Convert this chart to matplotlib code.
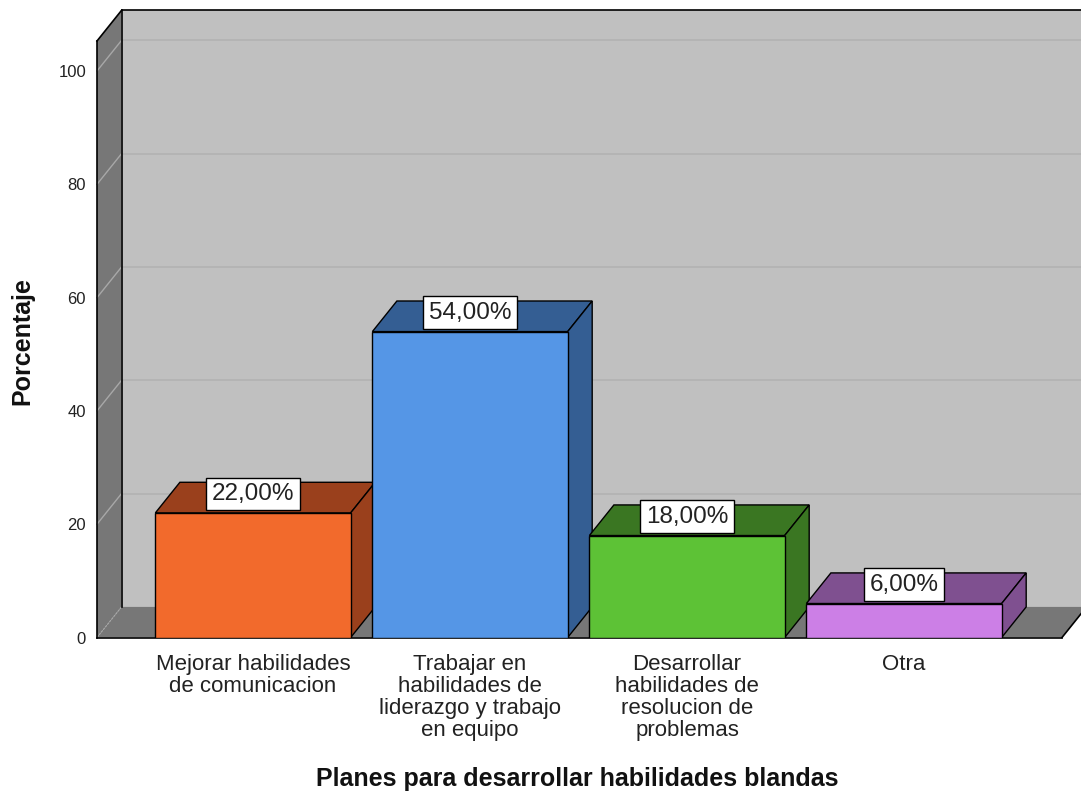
import matplotlib
matplotlib.use('Agg')
import matplotlib.pyplot as plt
from matplotlib.patches import Polygon

plt.rcParams['font.family'] = ['Liberation Sans', 'DejaVu Sans']

# data
categories = ['Mejorar habilidades\nde comunicacion',
              'Trabajar en\nhabilidades de\nliderazgo y trabajo\nen equipo',
              'Desarrollar\nhabilidades de\nresolucion de\nproblemas',
              'Otra']
percentages = [22.0, 54.0, 18.0, 6.0]
y_ticks = [0, 20, 40, 60, 80, 100]

front_colors = ['#F26A2C', '#5596E6', '#5DC236', '#CC7FE6']
shade_colors = ['#9A401C', '#345E93', '#3A7622', '#7F5090']

# fake 3D geometry (data units)
DX, DY = 0.113, 5.4          # depth offset
X0, X1 = -0.719, 3.728       # front plane x range
YTOP = 105.3                 # front top of left wall
BAR_W = 0.9
WALL = '#777777'
BACK = '#C0C0C0'

fig = plt.figure(figsize=(10.81, 7.96), dpi=100)
ax = fig.add_axes([97 / 1081, 1 - 637.5 / 796, 984 / 1081, 637.5 / 796])
ax.set_xlim(X0, X0 + 984 / 217)
ax.set_ylim(0, 637.5 / 5.665)
ax.set_facecolor('none')
for s in ax.spines.values():
    s.set_visible(False)

xr = X0 + 984 / 217 + 1   # past the right edge, clipped by the canvas

# back wall
ax.add_patch(Polygon([(X0 + DX, DY), (xr, DY), (xr, YTOP + DY), (X0 + DX, YTOP + DY)],
                     closed=True, fc=BACK, ec='none', clip_on=False, zorder=1))
# floor
ax.add_patch(Polygon([(X0, 0), (X1, 0), (X1 + DX, DY), (xr, DY), (xr, DY), (X0 + DX, DY)],
                     closed=True, fc=WALL, ec='none', clip_on=False, zorder=1))
# left wall
ax.add_patch(Polygon([(X0, 0), (X0 + DX, DY), (X0 + DX, YTOP + DY), (X0, YTOP)],
                     closed=True, fc=WALL, ec='none', clip_on=False, zorder=1))

# grid lines
for y in y_ticks:
    if y == 0:
        ax.plot([X0, X0 + DX], [0, DY], color='#A8A8A8', lw=0.8, ls=(0, (2, 1)),
                clip_on=False, zorder=2)
        continue
    ax.plot([X0 + DX, xr], [y + DY, y + DY], color='#B2B2B2', lw=1.2, clip_on=False, zorder=2)
    ax.plot([X0, X0 + DX], [y, y + DY], color='#A8A8A8', lw=1.0, clip_on=False, zorder=2)

# wall outlines
edge = dict(color='black', lw=1.2, clip_on=False, zorder=3)
ax.plot([X0, X0], [0, YTOP], **edge)
ax.plot([X0, X0 + DX], [YTOP, YTOP + DY], **edge)
ax.plot([X0 + DX, X0 + DX], [DY, YTOP + DY], **edge)
ax.plot([X0 + DX, xr], [YTOP + DY, YTOP + DY], **edge)
ax.plot([X0, X1], [0, 0], **edge)
ax.plot([X1, X1 + DX], [0, DY], **edge)

# bars
xpos = list(range(len(categories)))
bars = ax.bar(xpos, percentages, width=BAR_W, color=front_colors,
              edgecolor='black', linewidth=1.0, zorder=5)
for i, (b, v) in enumerate(zip(bars, percentages)):
    left, right = b.get_x(), b.get_x() + b.get_width()
    z = 4 + i * 2
    b.set_zorder(z + 1)
    ax.add_patch(Polygon([(left, v), (right, v), (right + DX, v + DY), (left + DX, v + DY)],
                         closed=True, fc=shade_colors[i], ec='black', lw=1.0, zorder=z))
    ax.add_patch(Polygon([(right, 0), (right + DX, DY), (right + DX, v + DY), (right, v)],
                         closed=True, fc=shade_colors[i], ec='black', lw=1.0, zorder=z))

# value labels
for i, v in enumerate(percentages):
    ax.annotate(f'{v:.2f}%'.replace('.', ','), xy=(i, v), xytext=(0, 19),
                textcoords='offset pixels', ha='center', va='center', fontsize=17.5,
                color='#222222', zorder=20,
                bbox=dict(boxstyle='square,pad=0.22', fc='white', ec='black', lw=1.0))

ax.set_yticks(y_ticks)
ax.set_yticklabels([str(t) for t in y_ticks])
ax.set_xticks(xpos)
ax.set_xticklabels(categories, linespacing=1.05)
ax.tick_params(axis='y', length=0, pad=7.9, labelsize=12, labelcolor='#222222')
ax.tick_params(axis='x', length=0, pad=12, labelsize=16, labelcolor='#222222')

fig.text(22 / 1081, 1 - 341 / 796, 'Porcentaje', rotation=90, ha='center', va='center',
         fontsize=18, fontweight='bold', color='#111111')
fig.text(577.5 / 1081, 1 - 786 / 796, 'Planes para desarrollar habilidades blandas',
         ha='center', va='baseline', fontsize=18, fontweight='bold', color='#111111')

fig.savefig('out.png', dpi=100)
